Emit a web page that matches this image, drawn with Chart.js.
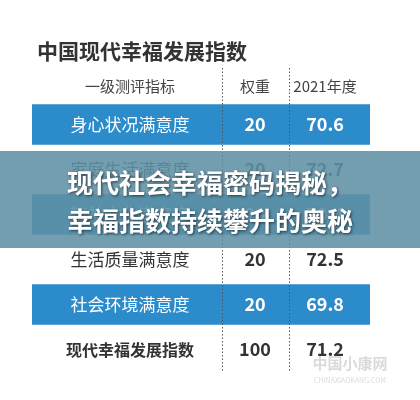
<!DOCTYPE html>
<html>
<head>
<meta charset="utf-8">
<script src="https://cdn.jsdelivr.net/npm/chart.js@4/dist/chart.umd.min.js"></script>
<style>
  body { margin: 0; background: #fff; }
  #wrap { width: 420px; height: 400px; }
</style>
</head>
<body>
<div id="wrap"><canvas id="myChart" width="420" height="400"></canvas></div>
<script>
var titulo = '中国现代幸福发展指数'
var encabezados = ['一级测评指标', '权重', '2021年度']
var indicadores = ['身心状况满意度', '家庭生活满意度', '精神文化满意度', '生活质量满意度', '社会环境满意度', '现代幸福发展指数']
var pesos = [20, 20, 20, 20, 20, 100]
var valores = ['70.6', '72.7', '70.4', '72.5', '69.8', '71.2']
var filaAzul = [1, 0, 1, 0, 1, 0]
var banner = ['现代社会幸福密码揭秘，', '幸福指数持续攀升的奥秘']

const FONT = '"Noto Sans CJK SC", "Noto Sans", sans-serif'
const colX = [130, 255, 325]

const tablaPlugin = {
    id: 'tabla',
    afterDatasetsDraw(chart) {
        const ctx = chart.ctx
        const y = chart.scales.y
        const area = chart.chartArea
        ctx.save()
        // titulo
        ctx.fillStyle = '#333'
        ctx.font = 'bold 21px ' + FONT
        ctx.textAlign = 'left'
        ctx.textBaseline = 'middle'
        ctx.fillText(titulo, 37, 51)
        // encabezados
        ctx.fillStyle = '#444'
        ctx.font = '15px ' + FONT
        ctx.textAlign = 'center'
        encabezados.forEach((h, i) => ctx.fillText(h, colX[i], 86))
        // separadores punteados
        ctx.strokeStyle = '#555'
        ctx.lineWidth = 1
        ctx.setLineDash([1.5, 2])
        ;[222, 289].forEach(x => {
            ctx.beginPath(); ctx.moveTo(x + 0.5, 68); ctx.lineTo(x + 0.5, area.bottom); ctx.stroke()
        })
        ctx.setLineDash([])
        // filas
        indicadores.forEach((name, i) => {
            const py = y.getPixelForValue(i)
            const azul = filaAzul[i] === 1
            const ultima = i === indicadores.length - 1
            ctx.fillStyle = azul ? '#fff' : '#333'
            ctx.font = (ultima ? 'bold 16px ' : '17px ') + FONT
            ctx.fillText(name, colX[0], py)
            ctx.font = 'bold 18px ' + FONT
            ctx.fillText(pesos[i], colX[1], py)
            ctx.fillText(valores[i], colX[2], py)
        })
        // marca de agua
        ctx.fillStyle = 'rgba(150,150,150,0.35)'
        ctx.font = 'bold 15px ' + FONT
        ctx.fillText('中国小康网', 350, 363)
        ctx.font = '7px ' + FONT
        ctx.fillText('CHINAXIAOKANG.COM', 350, 380)
        // banner
        ctx.fillStyle = 'rgba(95,145,165,0.88)'
        ctx.fillRect(0, 151, 420, 97)
        ctx.font = 'bold 26px ' + FONT
        ctx.shadowColor = 'rgba(0,0,0,0.6)'
        ctx.shadowBlur = 3
        ctx.shadowOffsetX = 1
        ctx.shadowOffsetY = 1
        ctx.fillStyle = '#fff'
        ctx.fillText(banner[0], 210, 183)
        ctx.fillText(banner[1], 210, 221)
        ctx.restore()
    }
}

const data = {
    labels: indicadores,
    datasets: [{
        data: filaAzul,
        backgroundColor: '#2b8bcb',
        borderWidth: 0,
        barPercentage: 1,
        categoryPercentage: 0.9
    }]
}

const config = {
    type: 'bar',
    data: data,
    options: {
        indexAxis: 'y',
        responsive: false,
        animation: false,
        layout: { padding: { left: 32, right: 50, top: 102, bottom: 28 } },
        plugins: { legend: { display: false }, tooltip: { enabled: false } },
        scales: {
            x: { display: false, min: 0, max: 1 },
            y: { display: false }
        }
    },
    plugins: [tablaPlugin]
}

new Chart(document.getElementById('myChart'), config)
</script>
</body>
</html>
